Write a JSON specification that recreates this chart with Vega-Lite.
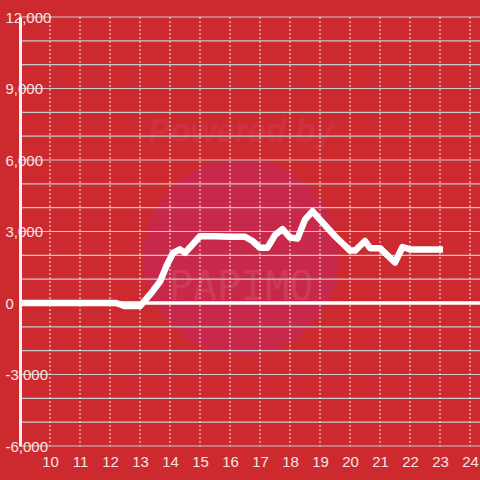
{
  "$schema": "https://vega.github.io/schema/vega-lite/v6.json",
  "width": 460,
  "height": 429,
  "autosize": {"type": "none"},
  "padding": {"left": 20, "top": 17, "right": 0, "bottom": 34},
  "background": "#cd2a2f",
  "config": {
    "view": {"stroke": null},
    "font": "Liberation Sans",
    "axis": {"labelOverlap": false}
  },
  "datasets": {
    "line": [
      {"h": 9.0, "v": 0},
      {"h": 12.2, "v": 0},
      {"h": 12.5, "v": -130},
      {"h": 13.0, "v": -130},
      {"h": 13.33, "v": 350},
      {"h": 13.67, "v": 900},
      {"h": 13.9, "v": 1600},
      {"h": 14.1, "v": 2100},
      {"h": 14.33, "v": 2250},
      {"h": 14.5, "v": 2100},
      {"h": 15.0, "v": 2800},
      {"h": 15.5, "v": 2800},
      {"h": 16.0, "v": 2780},
      {"h": 16.5, "v": 2780},
      {"h": 16.75, "v": 2600},
      {"h": 17.0, "v": 2320},
      {"h": 17.25, "v": 2320},
      {"h": 17.5, "v": 2850},
      {"h": 17.75, "v": 3100},
      {"h": 18.0, "v": 2750},
      {"h": 18.25, "v": 2700},
      {"h": 18.5, "v": 3500},
      {"h": 18.75, "v": 3850},
      {"h": 19.0, "v": 3500},
      {"h": 19.5, "v": 2800},
      {"h": 20.0, "v": 2200},
      {"h": 20.17, "v": 2200},
      {"h": 20.5, "v": 2600},
      {"h": 20.67, "v": 2300},
      {"h": 21.0, "v": 2300},
      {"h": 21.25, "v": 2000},
      {"h": 21.5, "v": 1700},
      {"h": 21.75, "v": 2350},
      {"h": 22.0, "v": 2250},
      {"h": 23.1, "v": 2250}
    ],
    "gy": [
      {"v": -6000}, {"v": -5000}, {"v": -4000}, {"v": -3000}, {"v": -2000}, {"v": -1000},
      {"v": 0}, {"v": 1000}, {"v": 2000}, {"v": 3000}, {"v": 4000}, {"v": 5000},
      {"v": 6000}, {"v": 7000}, {"v": 8000}, {"v": 9000}, {"v": 10000}, {"v": 11000}, {"v": 12000}
    ],
    "gx": [
      {"h": 10}, {"h": 11}, {"h": 12}, {"h": 13}, {"h": 14}, {"h": 15}, {"h": 16}, {"h": 17},
      {"h": 18}, {"h": 19}, {"h": 20}, {"h": 21}, {"h": 22}, {"h": 23}, {"h": 24}
    ],
    "wm": [
      {"h": 16.37, "v": 1925, "t1": "Powered by", "t1v": 7155, "t2": "PAPIMO", "t2v": 628}
    ]
  },
  "encoding": {
    "x": {"type": "quantitative", "scale": {"domain": [9, 24.3333], "nice": false, "zero": false},
      "axis": {"title": null, "tickCount": 15, "values": [10,11,12,13,14,15,16,17,18,19,20,21,22,23,24], "domain": false, "ticks": false, "grid": false,
        "labelOverlap": false, "labelFontSize": 15, "labelColor": "#f4e4e4", "labelPadding": 8, "labelFont": "Liberation Sans"}},
    "y": {"type": "quantitative", "scale": {"domain": [-6000, 12000], "nice": false, "zero": false},
      "axis": {"title": null, "values": [-6000, -3000, 0, 3000, 6000, 9000, 12000], "grid": false, "ticks": false, "tickSize": 0,
        "domain": true, "domainColor": "#f2f2f2", "domainWidth": 3, "zindex": 1, "labelOverlap": false,
        "labelAlign": "left", "labelPadding": 15, "labelFontSize": 15, "labelColor": "#f4e4e4", "labelFont": "Liberation Sans",
        "labelExpr": "(datum.value < 0 ? '-' : '') + format(abs(datum.value), ',')"}}
  },
  "layer": [
    {
      "data": {"name": "wm"},
      "mark": {"type": "point", "filled": true, "shape": "circle", "size": 38416, "color": "#c8284a", "opacity": 1},
      "encoding": {
        "x": {"field": "h"},
        "y": {"field": "v"}
      }
    },
    {
      "data": {"name": "wm"},
      "mark": {"type": "text", "font": "Liberation Sans", "fontSize": 33, "fontWeight": "bold", "fontStyle": "italic", "color": "#d03a55", "opacity": 0.45},
      "encoding": {
        "x": {"field": "h"},
        "y": {"field": "t1v"},
        "text": {"field": "t1"}
      }
    },
    {
      "data": {"name": "wm"},
      "mark": {"type": "text", "font": "DejaVu Sans Mono", "fontSize": 40, "color": "#d9606f", "opacity": 0.35},
      "encoding": {
        "x": {"field": "h"},
        "y": {"field": "t2v"},
        "text": {"field": "t2"}
      }
    },
    {
      "data": {"name": "gy"},
      "mark": {"type": "rule", "color": "#c9c9c9", "strokeWidth": 1.2},
      "encoding": {"x": null, "y": {"field": "v"}}
    },
    {
      "data": {"name": "gx"},
      "mark": {"type": "rule", "color": "#ece4e4", "strokeWidth": 1, "strokeDash": [2, 2]},
      "encoding": {"x": {"field": "h"}, "y": null}
    },
    {
      "data": {"values": [{"v": 0}]},
      "mark": {"type": "rule", "color": "#ffffff", "strokeWidth": 3.5},
      "encoding": {"x": null, "y": {"field": "v"}}
    },
    {
      "data": {"name": "line"},
      "mark": {"type": "line", "color": "#ffffff", "strokeWidth": 6.5, "strokeJoin": "round"},
      "encoding": {
        "x": {"field": "h"},
        "y": {"field": "v"}
      }
    }
  ]
}
